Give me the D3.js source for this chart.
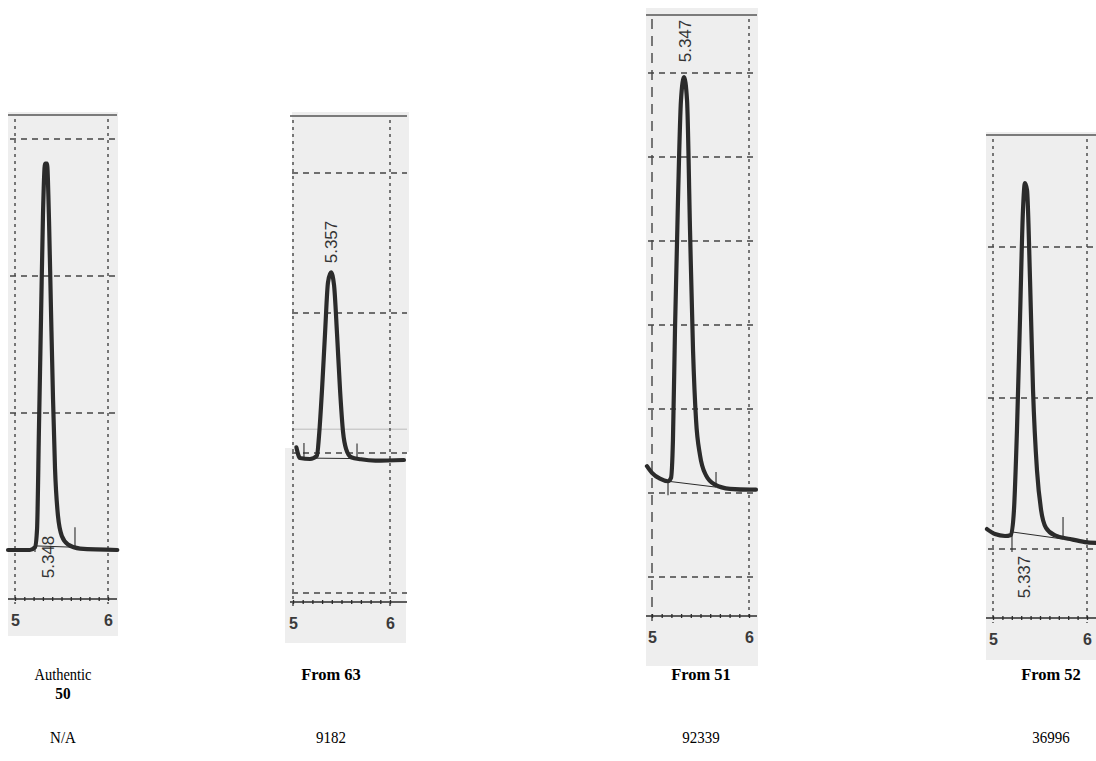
<!DOCTYPE html>
<html lang="en">
<head>
    <meta charset="UTF-8">
    <title>HPLC traces</title>
    <script src="https://d3js.org/d3.v7.min.js"></script>
    <style>
        body { margin: 0; background: #fff; }
        svg { display: block; }
    </style>
</head>
<body>

<script>
    // Sample names, areas and retention times
    const sampleNames = ["Authentic", "From 63", "From 51", "From 52"];
    const sampleSub = ["50", "", "", ""];
    const peakAreas = ["N/A", "9182", "92339", "36996"];
    const retentionTimes = ["5.348", "5.357", "5.347", "5.337"];
    const axisLabels = [5, 6];

    // Traces (time in min, signal in grid divisions)
    const time1 = [4.925, 5.16, 5.215, 5.237, 5.258, 5.28, 5.301, 5.323, 5.344, 5.366, 5.387, 5.409, 5.43, 5.462, 5.505, 5.57, 5.7, 6.1];
    const signal1 = [0, 0, 0.02, 0.15, 0.9, 1.7, 2.45, 2.82, 2.82, 2.4, 1.75, 1.1, 0.6, 0.25, 0.1, 0.04, 0.01, 0];

    const time2 = [5.035, 5.072, 5.175, 5.247, 5.268, 5.299, 5.33, 5.361, 5.392, 5.423, 5.454, 5.485, 5.516, 5.547, 5.6, 5.70, 5.85, 6.144];
    const signal2 = [0.04, -0.036, -0.043, -0.02, 0.12, 0.45, 0.85, 1.22, 1.29, 1.2, 0.85, 0.45, 0.15, 0.03, -0.03, -0.045, -0.055, -0.05];

    const time3 = [4.948, 5.0, 5.082, 5.165, 5.196, 5.216, 5.237, 5.268, 5.299, 5.33, 5.361, 5.392, 5.423, 5.454, 5.495, 5.557, 5.649, 5.804, 6.01, 6.072];
    const signal3 = [0.32, 0.24, 0.17, 0.14, 0.18, 0.63, 1.94, 3.49, 4.68, 4.95, 4.68, 3.13, 1.7, 0.87, 0.45, 0.21, 0.1, 0.05, 0.04, 0.04];

    const time4 = [4.936, 5.021, 5.128, 5.191, 5.223, 5.255, 5.287, 5.319, 5.34, 5.362, 5.394, 5.426, 5.468, 5.511, 5.564, 5.66, 5.819, 5.979, 6.096];
    const signal4 = [0.132, 0.099, 0.086, 0.093, 0.258, 0.788, 1.517, 2.245, 2.424, 2.377, 1.781, 1.05, 0.52, 0.26, 0.14, 0.09, 0.066, 0.046, 0.04];

    // integration start / end (time, signal)
    const integStart = [[5.215, 0.03], [5.113, -0.036], [5.165, 0.14], [5.202, 0.113]];
    const integEnd = [[5.645, 0.02], [5.66, -0.04], [5.66, 0.07], [5.745, 0.066]];

    // horizontal grid divisions per panel
    const gridLevels = [[1, 2, 3], [-1, 0, 1, 2], [-1, 0, 1, 2, 3, 4, 5], [0, 1, 2]];

    const traces = [
        d3.zip(time1, signal1), d3.zip(time2, signal2),
        d3.zip(time3, signal3), d3.zip(time4, signal4)
    ];

    // page layout of each scanned panel
    const layout = [
        { bg: [[8, 112, 110, 524]], x5: 15, x6: 108, y0: 550, step: 137, top: 115, axis: 599,
          left: 8, right: 117, label: [48, 557], tickUp: [-6, 20], caption: 63 },
        { bg: [[292, 112, 117, 340], [285, 448, 121, 195]], x5: 293, x6: 390, y0: 453, step: 140, top: 116, axis: 602,
          left: 290, right: 407, label: [331, 242], tickUp: [15, 15], caption: 331, faint: 0.17 },
        { bg: [[646, 8, 112, 658]], x5: 652, x6: 749, y0: 493, step: 84, top: 15, axis: 616,
          left: 646, right: 757, label: [685, 41], tickUp: [-14, 15], caption: 701 },
        { bg: [[986, 132, 110, 528]], x5: 993, x6: 1087, y0: 549, step: 151, top: 135, axis: 618,
          left: 986, right: 1096, label: [1024, 577], tickUp: [-20, 22], caption: 1051 }
    ];

    const svg = d3.select("body").append("svg")
        .attr("width", 1096)
        .attr("height", 761);

    const ink = "#2b2b2b";

    layout.forEach((p, i) => {
        const x = d3.scaleLinear().domain([5, 6]).range([p.x5, p.x6]);
        const y = d3.scaleLinear().domain([0, 1]).range([p.y0, p.y0 - p.step]);
        const g = svg.append("g");

        // scanned paper background
        g.selectAll("rect.bg")
            .data(p.bg)
            .enter().append("rect")
            .attr("x", d => d[0])
            .attr("y", d => d[1])
            .attr("width", d => d[2])
            .attr("height", d => d[3])
            .attr("fill", "#eeeeee");

        // top frame line
        g.append("line")
            .attr("x1", p.left).attr("x2", p.right)
            .attr("y1", p.top).attr("y2", p.top)
            .attr("stroke", "#555").attr("stroke-width", 1.6);

        // faint scan seam (panel 2 only)
        if (p.faint !== undefined) {
            g.append("line")
                .attr("x1", p.left + 2).attr("x2", p.right)
                .attr("y1", y(p.faint)).attr("y2", y(p.faint))
                .attr("stroke", "#bbb").attr("stroke-width", 1);
        }

        // horizontal dashed grid
        g.selectAll("line.hgrid")
            .data(gridLevels[i])
            .enter().append("line")
            .attr("x1", p.left + 2).attr("x2", p.right)
            .attr("y1", d => y(d)).attr("y2", d => y(d))
            .attr("stroke", "#444")
            .attr("stroke-width", 1.3)
            .attr("stroke-dasharray", "6,5");

        // vertical dotted grid at 5 and 6 min
        g.selectAll("line.vgrid")
            .data(axisLabels)
            .enter().append("line")
            .attr("x1", d => x(d)).attr("x2", d => x(d))
            .attr("y1", p.top + 4).attr("y2", p.axis + 5)
            .attr("stroke", "#444")
            .attr("stroke-width", 1.4)
            .attr("stroke-dasharray", (d, j) => (i === 2 && j === 0) ? "10,7" : "3,4");

        // time axis
        g.append("line")
            .attr("x1", p.left).attr("x2", p.right)
            .attr("y1", p.axis).attr("y2", p.axis)
            .attr("stroke", ink).attr("stroke-width", 1.7);

        const axis = d3.axisBottom(x)
            .tickValues(d3.range(0, 11).map(k => 5 + k / 10))
            .tickSize(-4)
            .tickPadding(14)
            .tickFormat(d => axisLabels.includes(+d.toFixed(1)) ? d3.format("d")(d) : "");

        const ax = g.append("g")
            .attr("transform", `translate(0,${p.axis + 2})`)
            .call(axis);
        ax.select(".domain").remove();
        ax.selectAll(".tick line").attr("stroke", ink).attr("stroke-width", 1.3);
        ax.selectAll(".tick text")
            .attr("font-family", "Liberation Sans, Arial, sans-serif")
            .attr("font-size", 16)
            .attr("font-weight", "bold")
            .attr("fill", "#3a3a3a");

        // integration baseline and markers
        const s0 = integStart[i], e0 = integEnd[i];
        g.append("line")
            .attr("x1", x(s0[0])).attr("y1", y(s0[1]))
            .attr("x2", x(e0[0])).attr("y2", y(e0[1]))
            .attr("stroke", ink).attr("stroke-width", 1);
        [[s0, p.tickUp[0]], [e0, p.tickUp[1]]].forEach(([pt, len]) => {
            g.append("line")
                .attr("x1", x(pt[0])).attr("x2", x(pt[0]))
                .attr("y1", y(pt[1])).attr("y2", y(pt[1]) - len)
                .attr("stroke", ink).attr("stroke-width", 1.1);
        });

        // chromatogram trace
        const line = d3.line()
            .x(d => x(d[0]))
            .y(d => y(d[1]))
            .curve(d3.curveMonotoneX);

        g.append("path")
            .datum(traces[i])
            .attr("d", line)
            .attr("fill", "none")
            .attr("stroke", ink)
            .attr("stroke-width", 4.2)
            .attr("stroke-linejoin", "round")
            .attr("stroke-linecap", "round");

        // retention time label
        g.append("text")
            .attr("transform", `translate(${p.label[0]},${p.label[1]}) rotate(-90)`)
            .attr("text-anchor", "middle")
            .attr("dominant-baseline", "central")
            .attr("font-family", "Liberation Sans, Arial, sans-serif")
            .attr("font-size", 17)
            .attr("fill", "#333")
            .text(retentionTimes[i]);

        // captions below
        const cap = svg.append("g")
            .attr("font-family", "Liberation Serif, Times New Roman, serif")
            .attr("font-size", 17)
            .attr("text-anchor", "middle")
            .attr("fill", "#000");

        cap.append("text")
            .attr("transform", `translate(${p.caption},680) scale(${i === 0 ? 0.85 : 0.97},1)`)
            .attr("font-weight", i === 0 ? "normal" : "bold")
            .text(sampleNames[i]);

        if (sampleSub[i]) {
            cap.append("text")
                .attr("transform", `translate(${p.caption},699) scale(0.9,1)`)
                .attr("font-weight", "bold")
                .text(sampleSub[i]);
        }

        cap.append("text")
            .attr("transform", `translate(${p.caption},743) scale(0.88,1)`)
            .text(peakAreas[i]);
    });
</script>

</body>
</html>
